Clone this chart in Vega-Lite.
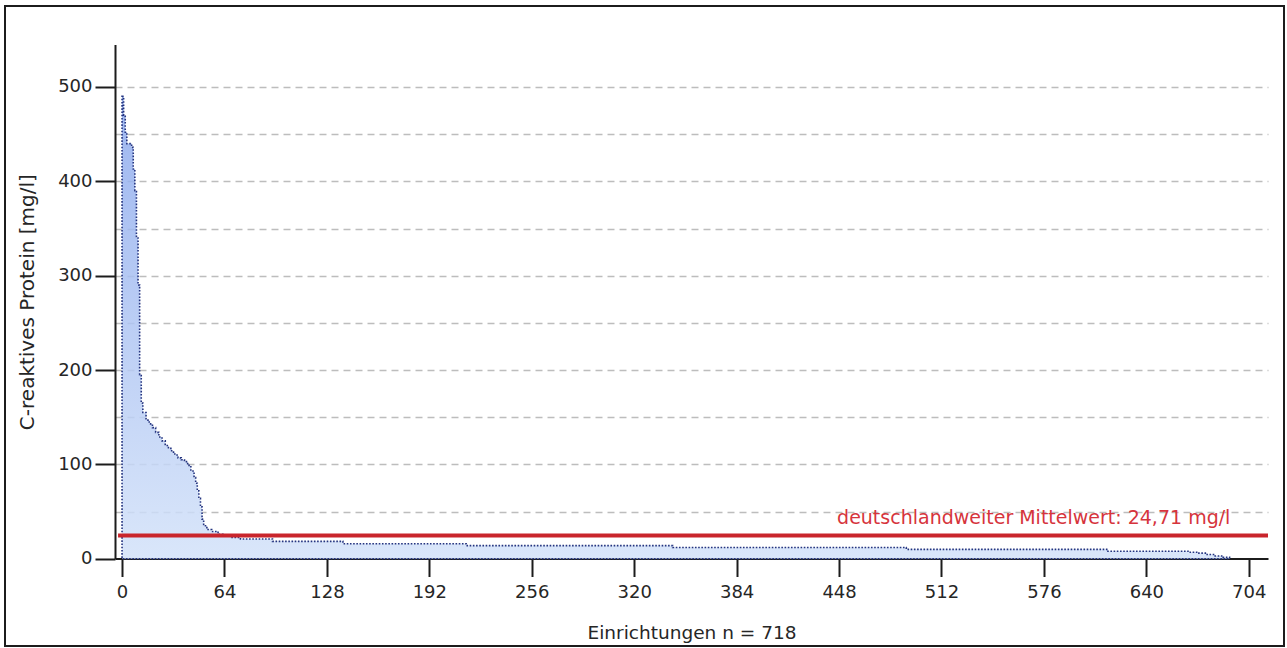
{
  "$schema": "https://vega.github.io/schema/vega-lite/v6.json",
  "description": "C-reaktives Protein je Einrichtung, absteigend sortiert, mit deutschlandweitem Mittelwert",
  "width": 1279,
  "height": 640,
  "autosize": {"type": "none"},
  "padding": {"left": 5, "top": 6, "right": 3, "bottom": 2},
  "background": "white",
  "config": {
    "font": "DejaVu Sans",
    "view": {"stroke": "#1c1c1c", "strokeWidth": 2},
    "axis": {
      "domainColor": "#1c1c1c",
      "domainWidth": 2,
      "tickColor": "#1c1c1c",
      "tickWidth": 2,
      "labelColor": "#262626",
      "labelFont": "DejaVu Sans",
      "labelFontSize": 18,
      "titleColor": "#262626",
      "titleFont": "DejaVu Sans",
      "titleFontWeight": "normal"
    }
  },
  "layer": [
    {
      "data": {
        "values": [
          {"rang": 0, "crp": 490}, {"rang": 1, "crp": 470}, {"rang": 2, "crp": 452},
          {"rang": 3, "crp": 440}, {"rang": 6, "crp": 436}, {"rang": 7, "crp": 413},
          {"rang": 8, "crp": 390}, {"rang": 9, "crp": 340}, {"rang": 10, "crp": 290},
          {"rang": 11, "crp": 195}, {"rang": 12, "crp": 165}, {"rang": 13, "crp": 155},
          {"rang": 15, "crp": 147}, {"rang": 17, "crp": 143}, {"rang": 19, "crp": 139},
          {"rang": 21, "crp": 134}, {"rang": 23, "crp": 129}, {"rang": 25, "crp": 125},
          {"rang": 27, "crp": 120}, {"rang": 29, "crp": 117}, {"rang": 31, "crp": 113},
          {"rang": 33, "crp": 110}, {"rang": 35, "crp": 107}, {"rang": 37, "crp": 105},
          {"rang": 39, "crp": 103}, {"rang": 41, "crp": 99}, {"rang": 43, "crp": 93},
          {"rang": 45, "crp": 86}, {"rang": 46, "crp": 80}, {"rang": 47, "crp": 72},
          {"rang": 48, "crp": 64}, {"rang": 49, "crp": 55}, {"rang": 50, "crp": 42},
          {"rang": 51, "crp": 35}, {"rang": 53, "crp": 31}, {"rang": 56, "crp": 29},
          {"rang": 60, "crp": 26}, {"rang": 63, "crp": 24}, {"rang": 68, "crp": 22.5},
          {"rang": 74, "crp": 21}, {"rang": 94, "crp": 18.5}, {"rang": 138, "crp": 16},
          {"rang": 215, "crp": 14}, {"rang": 344, "crp": 12}, {"rang": 490, "crp": 10},
          {"rang": 616, "crp": 8}, {"rang": 666, "crp": 7}, {"rang": 672, "crp": 6},
          {"rang": 678, "crp": 4.5}, {"rang": 683, "crp": 3}, {"rang": 688, "crp": 1.5},
          {"rang": 692, "crp": 0.5}
        ]
      },
      "mark": {
        "type": "area",
        "interpolate": "step-after",
        "fill": {
          "gradient": "linear",
          "x1": 0, "y1": 0, "x2": 0, "y2": 1,
          "stops": [
            {"offset": 0, "color": "#8ca9ed"},
            {"offset": 1, "color": "#d3e2f9"}
          ]
        },
        "fillOpacity": 0.85,
        "stroke": "#24347f",
        "strokeWidth": 1.6,
        "strokeDash": [1.6, 1.6]
      },
      "encoding": {
        "x": {
          "field": "rang",
          "type": "quantitative",
          "scale": {"domain": [-4.4, 716], "range": [110, 1263], "nice": false, "zero": false},
          "axis": {
            "orient": "bottom",
            "offset": -87.5,
            "values": [0, 64, 128, 192, 256, 320, 384, 448, 512, 576, 640, 704],
            "grid": false,
            "tickSize": 18,
            "labelPadding": 7,
            "title": "Einrichtungen n = 718",
            "titleFontSize": 18.5,
            "titlePadding": 22
          }
        },
        "y": {
          "field": "crp",
          "type": "quantitative",
          "scale": {"domain": [0, 545], "range": [552.8, 38.5], "nice": false},
          "axis": {
            "orient": "left",
            "offset": -110,
            "values": [0, 25, 50, 75, 100, 125, 150, 175, 200, 225, 250, 275, 300, 325, 350, 375, 400, 425, 450, 475, 500, 525],
            "labelExpr": "datum.value % 100 === 0 ? datum.label : ''",
            "tickSize": 20,
            "tickOpacity": {"condition": {"test": "datum.value % 100 === 0", "value": 1}, "value": 0},
            "labelPadding": 3,
            "grid": true,
            "gridColor": "#bdbdbd",
            "gridWidth": 1.3,
            "gridDash": [7, 5],
            "gridOpacity": {"condition": {"test": "datum.value === 0", "value": 0}, "value": 1},
            "title": "C-reaktives Protein [mg/l]",
            "titleFontSize": 20,
            "titlePadding": 20
          }
        }
      }
    },
    {
      "data": {"values": [{"mittelwert": 24.71, "beschriftung": "deutschlandweiter Mittelwert: 24,71 mg/l"}]},
      "mark": {"type": "rule", "color": "#c9252c", "strokeWidth": 4},
      "encoding": {
        "y": {"field": "mittelwert", "type": "quantitative"},
        "x": {"datum": -2.5},
        "x2": {"datum": 716}
      }
    },
    {
      "data": {"values": [{"mittelwert": 24.71, "beschriftung": "deutschlandweiter Mittelwert: 24,71 mg/l"}]},
      "mark": {
        "type": "text",
        "align": "right",
        "baseline": "alphabetic",
        "dy": -11,
        "color": "#d6343c",
        "font": "DejaVu Sans",
        "fontSize": 19
      },
      "encoding": {
        "y": {"field": "mittelwert", "type": "quantitative"},
        "x": {"datum": 692.5},
        "text": {"field": "beschriftung", "type": "nominal"}
      }
    }
  ]
}
